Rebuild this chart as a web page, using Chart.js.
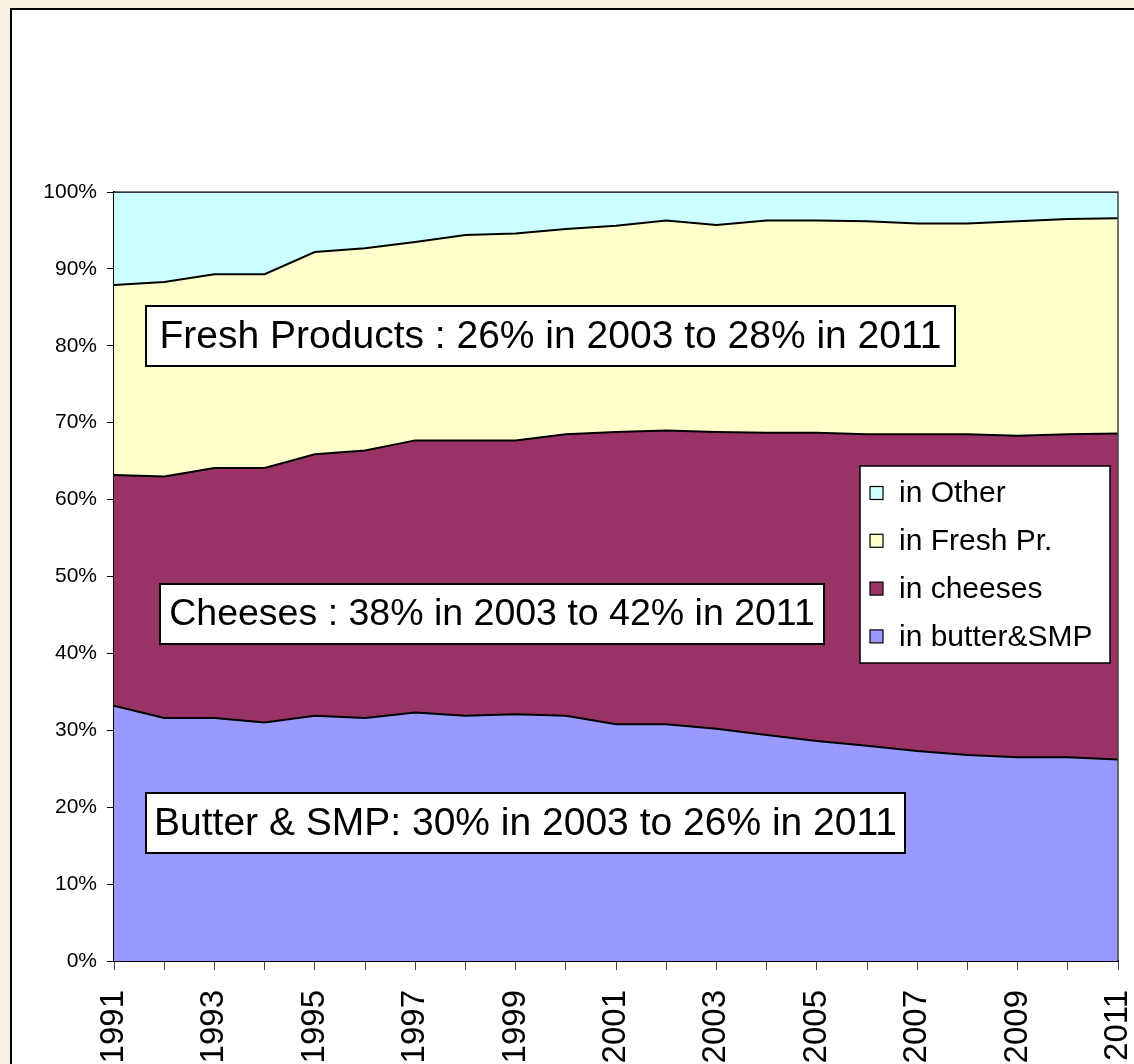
<!DOCTYPE html>
<html>
<head>
<meta charset="utf-8">
<script src="https://cdn.jsdelivr.net/npm/chart.js@4/dist/chart.umd.min.js"></script>
<style>
  html, body { margin: 0; padding: 0; overflow: hidden; background: #f5f0e1; }
  #frame { position: absolute; left: 10px; top: 8px; width: 1140px; height: 1080px; background: #fff; border: 2px solid #000; }
  #chart { position: absolute; left: 0; top: 0; }
</style>
</head>
<body>
<div id="frame"></div>
<canvas id="chart" width="1134" height="1064"></canvas>
<script>
const years = ['1991','1992','1993','1994','1995','1996','1997','1998','1999','2000',
               '2001','2002','2003','2004','2005','2006','2007','2008','2009','2010','2011'];

// shares in %
const butter  = [33.2, 31.6, 31.6, 31.0, 31.9, 31.6, 32.3, 31.9, 32.1, 31.9, 30.8, 30.8, 30.2, 29.4, 28.6, 28.0, 27.3, 26.8, 26.5, 26.5, 26.2];
const cheeses = [30.0, 31.4, 32.5, 33.1, 34.0, 34.8, 35.4, 35.8, 35.6, 36.6, 38.0, 38.2, 38.6, 39.3, 40.1, 40.5, 41.2, 41.7, 41.8, 42.0, 42.4];
const fresh   = [24.7, 25.3, 25.2, 25.2, 26.3, 26.3, 25.8, 26.7, 26.9, 26.7, 26.8, 27.3, 26.9, 27.6, 27.6, 27.7, 27.4, 27.4, 27.9, 28.0, 28.0];
const other   = [12.1, 11.7, 10.7, 10.7,  7.8,  7.3,  6.5,  5.6,  5.4,  4.8,  4.4,  3.7,  4.3,  3.7,  3.7,  3.8,  4.1,  4.1,  3.8,  3.5,  3.4];

const seriesNames = ['in butter&SMP', 'in cheeses', 'in Fresh Pr.', 'in Other'];
const seriesColors = ['#9999ff', '#993366', '#ffffcc', '#ccffff'];

const notes = [
    {text: 'Fresh Products : 26% in 2003 to 28% in 2011', x: 146, y: 306, w: 809, size: 39},
    {text: 'Cheeses : 38% in 2003 to 42% in 2011', x: 160, y: 584, w: 664, size: 37.5},
    {text: 'Butter & SMP: 30% in 2003 to 26% in 2011', x: 146, y: 793, w: 759, size: 39},
];

const FONT = '"Liberation Sans", Arial, sans-serif';

const ctx = document.getElementById('chart');

const datasets = [butter, cheeses, fresh, other].map((vals, i) => ({
    label: seriesNames[i],
    data: vals,
    backgroundColor: seriesColors[i],
    borderColor: '#000',
    borderWidth: 2,
    pointRadius: 0,
    tension: 0,
    fill: i === 0 ? 'origin' : '-1',
}));

// plot frame, text boxes and legend
const extras = {
    id: 'extras',
    afterDraw(chart) {
        const c = chart.ctx;
        const a = chart.chartArea;
        c.save();
        c.strokeStyle = '#444';
        c.lineWidth = 1.5;
        c.beginPath();
        c.moveTo(a.left, a.top);
        c.lineTo(a.right, a.top);
        c.lineTo(a.right, a.bottom);
        c.stroke();

        c.textBaseline = 'middle';
        notes.forEach(n => {
            c.fillStyle = '#fff';
            c.fillRect(n.x, n.y, n.w, 60);
            c.strokeStyle = '#000';
            c.lineWidth = 2;
            c.strokeRect(n.x, n.y, n.w, 60);
            c.font = n.size + 'px ' + FONT;
            c.fillStyle = '#000';
            c.textAlign = 'center';
            c.fillText(n.text, n.x + n.w / 2, n.y + 31);
        });

        // legend
        c.textAlign = 'left';
        c.fillStyle = '#fff';
        c.fillRect(860, 466, 250, 197);
        c.strokeStyle = '#000';
        c.lineWidth = 1.5;
        c.strokeRect(860, 466, 250, 197);
        c.font = '30px ' + FONT;
        const ds = chart.data.datasets.slice().reverse();
        ds.forEach((d, i) => {
            const cy = 493 + i * 47.8;
            c.fillStyle = d.backgroundColor;
            c.fillRect(870, cy - 6.5, 13, 13);
            c.strokeStyle = '#000';
            c.lineWidth = 1.2;
            c.strokeRect(870, cy - 6.5, 13, 13);
            c.fillStyle = '#000';
            c.fillText(d.label, 899, cy + 1);
        });
        c.restore();
    }
};

const config = {
    type: 'line',
    data: {
        labels: years,
        datasets: datasets
    },
    options: {
        responsive: false,
        animation: false,
        layout: {
            padding: {left: 0, top: 192, right: 16, bottom: 0}
        },
        plugins: {
            legend: {display: false},
            tooltip: {enabled: false}
        },
        scales: {
            x: {
                offset: false,
                grid: {drawOnChartArea: false, drawTicks: true, tickLength: 9, color: '#444'},
                border: {color: '#000', width: 2},
                ticks: {
                    autoSkip: false,
                    minRotation: 90,
                    maxRotation: 90,
                    padding: 20,
                    color: '#000',
                    font: {family: FONT, size: 33},
                    callback: (v, i) => i % 2 === 0 ? years[i] : ''
                },
                afterFit: s => {
                    s.height = 103;
                    s.paddingLeft = 0;
                    s.paddingRight = 0;
                }
            },
            y: {
                stacked: true,
                min: 0,
                max: 100,
                grid: {drawOnChartArea: false, drawTicks: true, tickLength: 7, color: '#000'},
                border: {color: '#000', width: 2},
                ticks: {
                    stepSize: 10,
                    padding: 10,
                    color: '#000',
                    font: {family: FONT, size: 21},
                    callback: v => v + '%'
                },
                afterFit: s => {
                    s.width = 114;
                    s.paddingTop = 0;
                    s.paddingBottom = 0;
                }
            }
        }
    },
    plugins: [extras]
};

const myChart = new Chart(ctx, config);
</script>
</body>
</html>
